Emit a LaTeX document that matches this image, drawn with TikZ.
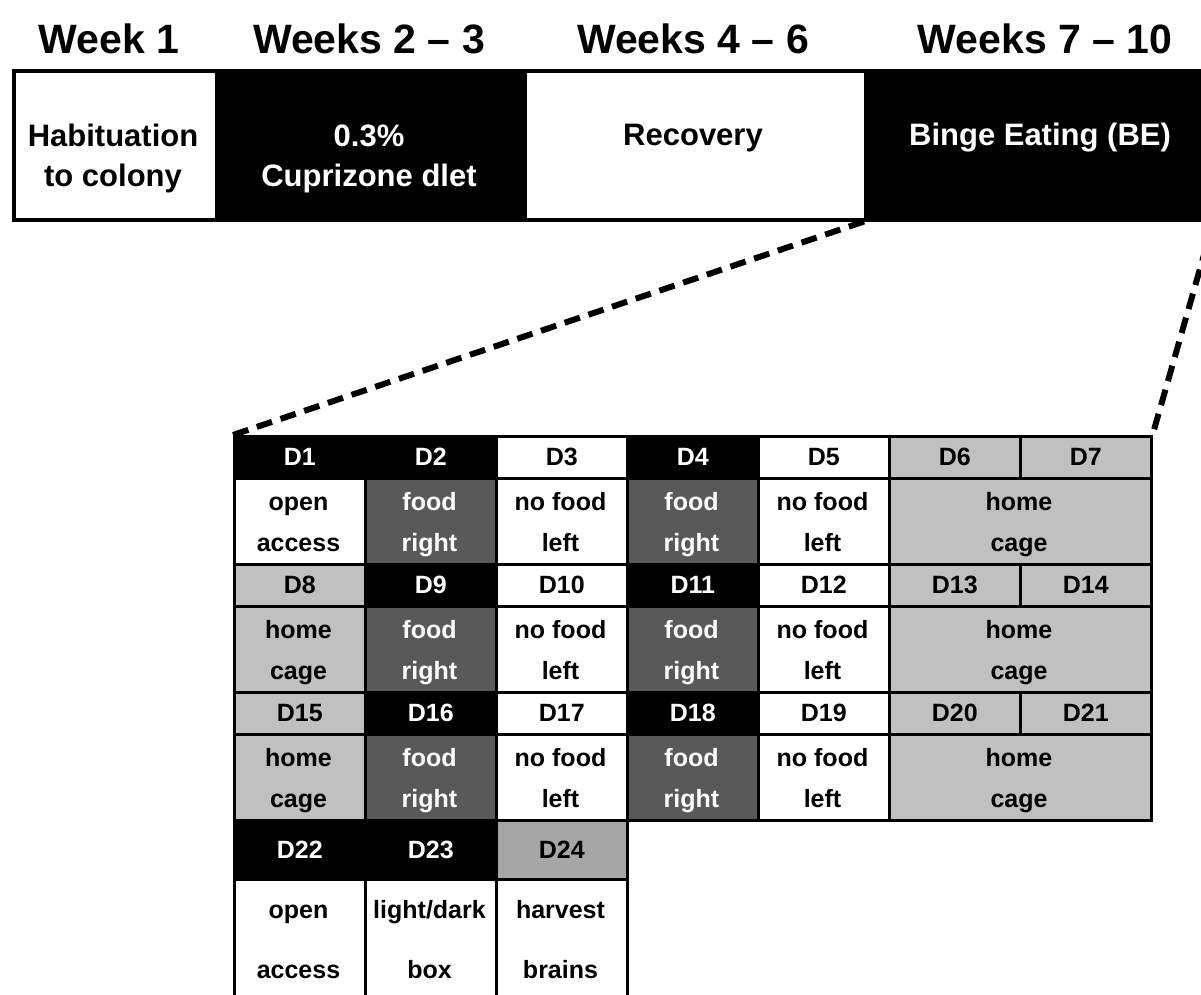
\documentclass[tikz,border=0pt]{standalone}
\usepackage{fontspec}
\setmainfont{Liberation Sans}
\definecolor{lgray}{HTML}{C0C0C0}
\definecolor{mgray}{HTML}{A6A6A6}
\definecolor{dgray}{HTML}{595959}
\newcommand\ccell[9]{%
  \node[cell,fill=#6,minimum width=#4pt,minimum height=#5pt] (#1) at (#2,#3) {};
  \node[txt,text=#7] (#1a) at ({#2+#4/2},{#3+33}) {#8};
  \node[txt,text=#7] (#1b) at ({#2+#4/2},{#3+74}) {#9};}
\newcommand\dcell[6]{%
  \node[cell,fill=#4,text=#5,minimum width=131pt,minimum height=#3pt,font=\fontsize{25}{30}\selectfont\bfseries] (#1) at (#2) {#6};}
\begin{document}
\begin{tikzpicture}[x=1pt,y=-1pt,
  band/.style={draw=black,line width=3.5pt,minimum height=149pt,inner sep=0pt,anchor=north west},
  head/.style={anchor=base,inner sep=0pt,font=\fontsize{41}{45}\selectfont\bfseries},
  btxt/.style={anchor=base,inner sep=0pt,font=\fontsize{31}{36}\selectfont\bfseries},
  cell/.style={draw=black,line width=2.5pt,inner sep=0pt,anchor=north west},
  txt/.style={anchor=base,inner sep=0pt,font=\fontsize{25}{30}\selectfont\bfseries},
  dashline/.style={draw=black,line width=6pt,dash pattern=on 16pt off 9pt}]
\useasboundingbox (0,0) rectangle (1201,994);
\clip (0,0) rectangle (1201,994);
% headers
\node[head] (w1) at (109,53) {Week 1};
\node[head] (w2) at (369,53) {Weeks 2 -- 3};
\node[head] (w3) at (693,53) {Weeks 4 -- 6};
\node[head] (w4) at (1045,53) {Weeks 7 -- 10};
% band
\node[band,fill=black,minimum width=308pt] (b2) at (215,69) {};
\node[band,fill=black,minimum width=346pt] (b4) at (864,69) {};
\node[band,fill=white,minimum width=203pt] (b1) at (12,69) {};
\node[band,fill=white,minimum width=341pt] (b3) at (523,69) {};
\node[btxt] (t1a) at (113,146) {Habituation};
\node[btxt] (t1b) at (113,186) {to colony};
\node[btxt,text=white] (t2a) at (369,146) {0.3\%};
\node[btxt,text=white] (t2b) at (369,186) {Cuprizone dlet};
\node[btxt] (t3) at (693,145) {Recovery};
\node[btxt,text=white] (t4) at (1040,145) {Binge Eating (BE)};
% row 1
\dcell{d1}{233,435}{42}{black}{white}{D1}
\dcell{d2}{364,435}{42}{black}{white}{D2}
\dcell{d3}{495,435}{42}{white}{black}{D3}
\dcell{d4}{626,435}{42}{black}{white}{D4}
\dcell{d5}{757,435}{42}{white}{black}{D5}
\dcell{d6}{888,435}{42}{lgray}{black}{D6}
\dcell{d7}{1019,435}{42}{lgray}{black}{D7}
\ccell{c1}{233}{477}{131}{86}{white}{black}{open}{access}
\ccell{c2}{364}{477}{131}{86}{dgray}{white}{food}{right}
\ccell{c3}{495}{477}{131}{86}{white}{black}{no food}{left}
\ccell{c4}{626}{477}{131}{86}{dgray}{white}{food}{right}
\ccell{c5}{757}{477}{131}{86}{white}{black}{no food}{left}
\ccell{c6}{888}{477}{262}{86}{lgray}{black}{home}{cage}
% row 2
\dcell{d8}{233,563}{42}{lgray}{black}{D8}
\dcell{d9}{364,563}{42}{black}{white}{D9}
\dcell{d10}{495,563}{42}{white}{black}{D10}
\dcell{d11}{626,563}{42}{black}{white}{D11}
\dcell{d12}{757,563}{42}{white}{black}{D12}
\dcell{d13}{888,563}{42}{lgray}{black}{D13}
\dcell{d14}{1019,563}{42}{lgray}{black}{D14}
\ccell{c7}{233}{605}{131}{86}{lgray}{black}{home}{cage}
\ccell{c8}{364}{605}{131}{86}{dgray}{white}{food}{right}
\ccell{c9}{495}{605}{131}{86}{white}{black}{no food}{left}
\ccell{c10}{626}{605}{131}{86}{dgray}{white}{food}{right}
\ccell{c11}{757}{605}{131}{86}{white}{black}{no food}{left}
\ccell{c12}{888}{605}{262}{86}{lgray}{black}{home}{cage}
% row 3
\dcell{d15}{233,691}{42}{lgray}{black}{D15}
\dcell{d16}{364,691}{42}{black}{white}{D16}
\dcell{d17}{495,691}{42}{white}{black}{D17}
\dcell{d18}{626,691}{42}{black}{white}{D18}
\dcell{d19}{757,691}{42}{white}{black}{D19}
\dcell{d20}{888,691}{42}{lgray}{black}{D20}
\dcell{d21}{1019,691}{42}{lgray}{black}{D21}
\ccell{c13}{233}{733}{131}{86}{lgray}{black}{home}{cage}
\ccell{c14}{364}{733}{131}{86}{dgray}{white}{food}{right}
\ccell{c15}{495}{733}{131}{86}{white}{black}{no food}{left}
\ccell{c16}{626}{733}{131}{86}{dgray}{white}{food}{right}
\ccell{c17}{757}{733}{131}{86}{white}{black}{no food}{left}
\ccell{c18}{888}{733}{262}{86}{lgray}{black}{home}{cage}
% row 4
\dcell{d22}{233,819}{59}{black}{white}{D22}
\dcell{d23}{364,819}{59}{black}{white}{D23}
\dcell{d24}{495,819}{59}{mgray}{black}{D24}
\node[cell,fill=white,minimum width=131pt,minimum height=140pt] (c19) at (233,878) {};
\node[cell,fill=white,minimum width=131pt,minimum height=140pt] (c20) at (364,878) {};
\node[cell,fill=white,minimum width=131pt,minimum height=140pt] (c21) at (495,878) {};
\node[txt] (c19a) at (298.5,918) {open};
\node[txt] (c19b) at (298.5,978) {access};
\node[txt] (c20a) at (429.5,918) {light/dark};
\node[txt] (c20b) at (429.5,978) {box};
\node[txt] (c21a) at (560.5,918) {harvest};
\node[txt] (c21b) at (560.5,978) {brains};
% zoom lines
\draw[dashline] (b4.south west) -- (d1.north west);
\draw[dashline] (b4.south east) -- (d7.north east);
\end{tikzpicture}
\end{document}
